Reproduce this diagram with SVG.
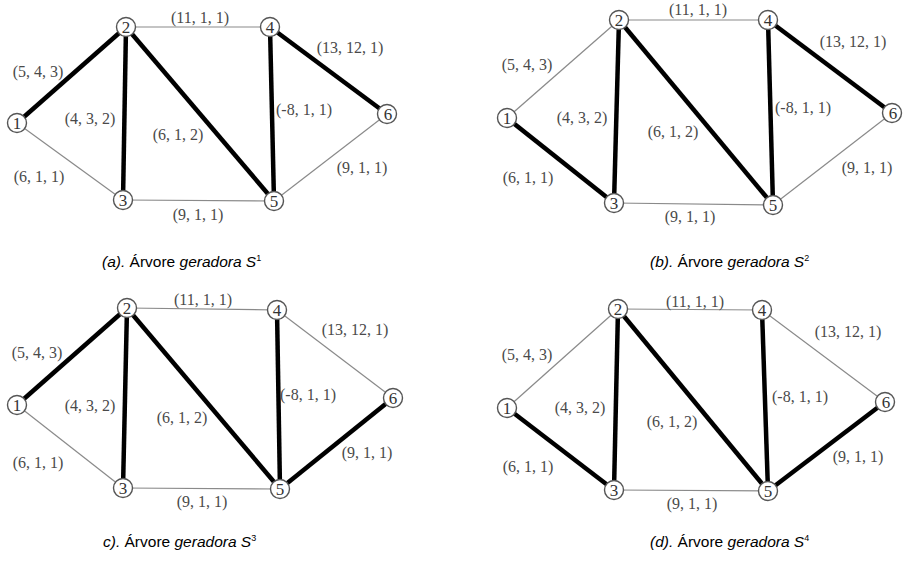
<svg xmlns="http://www.w3.org/2000/svg" width="904" height="561" viewBox="0 0 904 561">
<style>
.thin{stroke:#8a8a8a;stroke-width:1.2;fill:none}
.thick{stroke:#000;stroke-width:4.5;fill:none}
.node circle{fill:#fff;stroke:#555;stroke-width:1.4}
.node text{font-family:"Liberation Serif",serif;font-size:17px;fill:#333;text-anchor:middle}
.el{font-family:"Liberation Serif",serif;font-size:16px;fill:#4a4a4a;text-anchor:middle}
.cap{font-family:"Liberation Sans",Arial,sans-serif;font-size:15.5px;fill:#000}
.it{font-style:italic}
.sup{font-size:9px}
</style>
<rect width="904" height="561" fill="#fff"/>

<!-- Panel A -->
<g id="a-edges">
<line class="thin" x1="126" y1="27" x2="270" y2="27"/>
<line class="thin" x1="17" y1="123" x2="123" y2="200"/>
<line class="thin" x1="123" y1="200" x2="274" y2="201"/>
<line class="thin" x1="274" y1="201" x2="387" y2="114"/>
<line class="thick" x1="17" y1="123" x2="126" y2="27"/>
<line class="thick" x1="126" y1="27" x2="123" y2="200"/>
<line class="thick" x1="126" y1="27" x2="274" y2="201"/>
<line class="thick" x1="270" y1="27" x2="274" y2="201"/>
<line class="thick" x1="270" y1="27" x2="387" y2="114"/>
<text class="el" x="200" y="23">(11, 1, 1)</text>
<text class="el" x="350" y="53">(13, 12, 1)</text>
<text class="el" x="38" y="77">(5, 4, 3)</text>
<text class="el" x="90" y="124">(4, 3, 2)</text>
<text class="el" x="178" y="140">(6, 1, 2)</text>
<text class="el" x="304" y="115">(-8, 1, 1)</text>
<text class="el" x="362" y="173">(9, 1, 1)</text>
<text class="el" x="39" y="182">(6, 1, 1)</text>
<text class="el" x="198" y="220">(9, 1, 1)</text>
</g>
<g id="a-n1" class="node"><circle cx="17" cy="123" r="9.5"/><text x="17" y="129">1</text></g>
<g id="a-n2" class="node"><circle cx="126" cy="27" r="9.5"/><text x="126" y="33">2</text></g>
<g id="a-n3" class="node"><circle cx="123" cy="200" r="9.5"/><text x="123" y="206">3</text></g>
<g id="a-n4" class="node"><circle cx="270" cy="27" r="9.5"/><text x="270" y="33">4</text></g>
<g id="a-n5" class="node"><circle cx="274" cy="201" r="9.5"/><text x="274" y="207">5</text></g>
<g id="a-n6" class="node"><circle cx="387" cy="114" r="9.5"/><text x="388" y="120">6</text></g>
<text class="cap" x="102" y="267"><tspan class="it">(a).</tspan> Árvore <tspan class="it">geradora S</tspan><tspan class="sup" dy="-6">1</tspan></text>

<!-- Panel B -->
<g id="b-edges">
<line class="thin" x1="619" y1="20" x2="768" y2="20"/>
<line class="thin" x1="507" y1="118" x2="619" y2="20"/>
<line class="thin" x1="614" y1="203" x2="773" y2="205"/>
<line class="thin" x1="773" y1="205" x2="892" y2="113"/>
<line class="thick" x1="507" y1="118" x2="614" y2="203"/>
<line class="thick" x1="619" y1="20" x2="614" y2="203"/>
<line class="thick" x1="619" y1="20" x2="773" y2="205"/>
<line class="thick" x1="768" y1="20" x2="773" y2="205"/>
<line class="thick" x1="768" y1="20" x2="892" y2="113"/>
<text class="el" x="698" y="15">(11, 1, 1)</text>
<text class="el" x="853" y="47">(13, 12, 1)</text>
<text class="el" x="527" y="70">(5, 4, 3)</text>
<text class="el" x="582" y="123">(4, 3, 2)</text>
<text class="el" x="673" y="137">(6, 1, 2)</text>
<text class="el" x="803" y="113">(-8, 1, 1)</text>
<text class="el" x="867" y="173">(9, 1, 1)</text>
<text class="el" x="528" y="183">(6, 1, 1)</text>
<text class="el" x="690" y="222">(9, 1, 1)</text>
</g>
<g id="b-n1" class="node"><circle cx="507" cy="118" r="9.5"/><text x="507" y="124">1</text></g>
<g id="b-n2" class="node"><circle cx="619" cy="20" r="9.5"/><text x="619" y="26">2</text></g>
<g id="b-n3" class="node"><circle cx="614" cy="203" r="9.5"/><text x="614" y="209">3</text></g>
<g id="b-n4" class="node"><circle cx="768" cy="20" r="9.5"/><text x="768" y="26">4</text></g>
<g id="b-n5" class="node"><circle cx="773" cy="205" r="9.5"/><text x="773" y="211">5</text></g>
<g id="b-n6" class="node"><circle cx="892" cy="113" r="9.5"/><text x="893" y="119">6</text></g>
<text class="cap" x="650" y="267"><tspan class="it">(b).</tspan> Árvore <tspan class="it">geradora S</tspan><tspan class="sup" dy="-6">2</tspan></text>

<!-- Panel C -->
<g id="c-edges">
<line class="thin" x1="127" y1="308" x2="277" y2="310"/>
<line class="thin" x1="17" y1="405" x2="123" y2="488"/>
<line class="thin" x1="123" y1="488" x2="280" y2="489"/>
<line class="thin" x1="277" y1="310" x2="393" y2="398"/>
<line class="thick" x1="17" y1="405" x2="127" y2="308"/>
<line class="thick" x1="127" y1="308" x2="123" y2="488"/>
<line class="thick" x1="127" y1="308" x2="280" y2="489"/>
<line class="thick" x1="277" y1="310" x2="280" y2="489"/>
<line class="thick" x1="280" y1="489" x2="393" y2="398"/>
<text class="el" x="203" y="305">(11, 1, 1)</text>
<text class="el" x="355" y="335">(13, 12, 1)</text>
<text class="el" x="37" y="358">(5, 4, 3)</text>
<text class="el" x="90" y="411">(4, 3, 2)</text>
<text class="el" x="182" y="423">(6, 1, 2)</text>
<text class="el" x="308" y="400">(-8, 1, 1)</text>
<text class="el" x="367" y="458">(9, 1, 1)</text>
<text class="el" x="38" y="468">(6, 1, 1)</text>
<text class="el" x="202" y="507">(9, 1, 1)</text>
</g>
<g id="c-n1" class="node"><circle cx="17" cy="405" r="9.5"/><text x="17" y="411">1</text></g>
<g id="c-n2" class="node"><circle cx="127" cy="308" r="9.5"/><text x="127" y="314">2</text></g>
<g id="c-n3" class="node"><circle cx="123" cy="488" r="9.5"/><text x="123" y="494">3</text></g>
<g id="c-n4" class="node"><circle cx="277" cy="310" r="9.5"/><text x="277" y="316">4</text></g>
<g id="c-n5" class="node"><circle cx="280" cy="489" r="9.5"/><text x="280" y="495">5</text></g>
<g id="c-n6" class="node"><circle cx="393" cy="398" r="9.5"/><text x="393" y="404">6</text></g>
<text class="cap" x="103" y="547"><tspan class="it">c).</tspan> Árvore <tspan class="it">geradora S</tspan><tspan class="sup" dy="-6">3</tspan></text>

<!-- Panel D -->
<g id="d-edges">
<line class="thin" x1="618" y1="309" x2="762" y2="310"/>
<line class="thin" x1="507" y1="408" x2="618" y2="309"/>
<line class="thin" x1="614" y1="490" x2="768" y2="491"/>
<line class="thin" x1="762" y1="310" x2="885" y2="402"/>
<line class="thick" x1="507" y1="408" x2="614" y2="490"/>
<line class="thick" x1="618" y1="309" x2="614" y2="490"/>
<line class="thick" x1="618" y1="309" x2="768" y2="491"/>
<line class="thick" x1="762" y1="310" x2="768" y2="491"/>
<line class="thick" x1="768" y1="491" x2="885" y2="402"/>
<text class="el" x="695" y="307">(11, 1, 1)</text>
<text class="el" x="848" y="337">(13, 12, 1)</text>
<text class="el" x="527" y="360">(5, 4, 3)</text>
<text class="el" x="580" y="413">(4, 3, 2)</text>
<text class="el" x="672" y="427">(6, 1, 2)</text>
<text class="el" x="800" y="402">(-8, 1, 1)</text>
<text class="el" x="858" y="462">(9, 1, 1)</text>
<text class="el" x="528" y="472">(6, 1, 1)</text>
<text class="el" x="692" y="509">(9, 1, 1)</text>
</g>
<g id="d-n1" class="node"><circle cx="507" cy="408" r="9.5"/><text x="507" y="414">1</text></g>
<g id="d-n2" class="node"><circle cx="618" cy="309" r="9.5"/><text x="618" y="315">2</text></g>
<g id="d-n3" class="node"><circle cx="614" cy="490" r="9.5"/><text x="614" y="496">3</text></g>
<g id="d-n4" class="node"><circle cx="762" cy="310" r="9.5"/><text x="762" y="316">4</text></g>
<g id="d-n5" class="node"><circle cx="768" cy="491" r="9.5"/><text x="768" y="497">5</text></g>
<g id="d-n6" class="node"><circle cx="885" cy="402" r="9.5"/><text x="886" y="408">6</text></g>
<text class="cap" x="650" y="547"><tspan class="it">(d).</tspan> Árvore <tspan class="it">geradora S</tspan><tspan class="sup" dy="-6">4</tspan></text>
</svg>
